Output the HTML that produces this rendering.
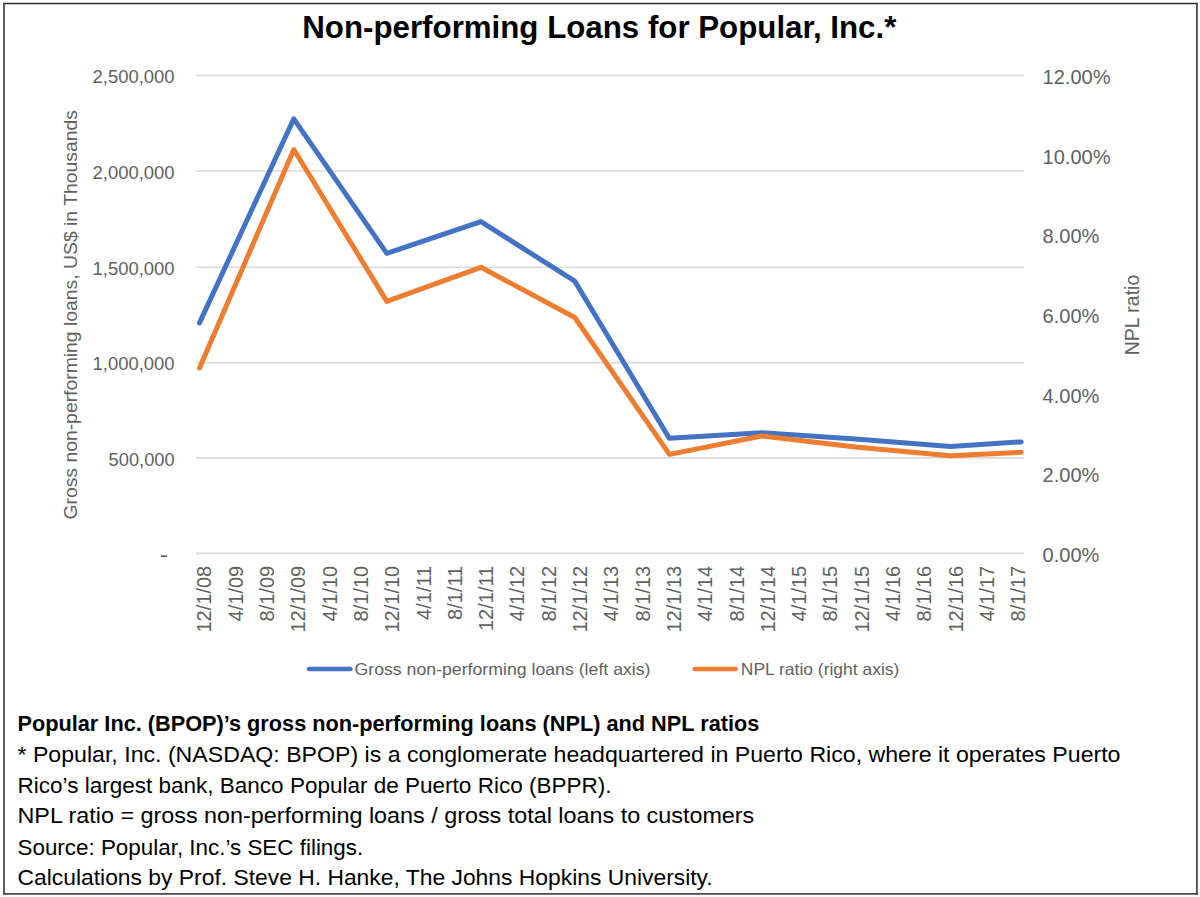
<!DOCTYPE html>
<html><head><meta charset="utf-8"><title>Non-performing Loans for Popular, Inc.</title>
<style>html,body{margin:0;padding:0;background:#fff;}svg{display:block;}text{font-family:"Liberation Sans", sans-serif;}</style>
</head><body>
<svg width="1200" height="897" viewBox="0 0 1200 897" font-family='"Liberation Sans", sans-serif'><rect x="0" y="0" width="1200" height="897" fill="#fff"/>
<line x1="3" y1="3.5" x2="1198" y2="3.5" stroke="#2c2c2c" stroke-width="1.5"/>
<line x1="4" y1="2.8" x2="4" y2="894.7" stroke="#555" stroke-width="1.9"/>
<line x1="1196.9" y1="2.8" x2="1196.9" y2="894.7" stroke="#505050" stroke-width="1.9"/>
<line x1="3" y1="893.8" x2="1198" y2="893.8" stroke="#4a4a4a" stroke-width="1.8"/>
<line x1="196" y1="75.55" x2="1024.2" y2="75.55" stroke="#d9d9d9" stroke-width="1.6"/>
<line x1="196" y1="170.95" x2="1024.2" y2="170.95" stroke="#d9d9d9" stroke-width="1.6"/>
<line x1="196" y1="267.30" x2="1024.2" y2="267.30" stroke="#d9d9d9" stroke-width="1.6"/>
<line x1="196" y1="362.60" x2="1024.2" y2="362.60" stroke="#d9d9d9" stroke-width="1.6"/>
<line x1="196" y1="457.90" x2="1024.2" y2="457.90" stroke="#d9d9d9" stroke-width="1.6"/>
<line x1="196" y1="553.40" x2="1024.2" y2="553.40" stroke="#d9d9d9" stroke-width="1.6"/>
<polyline points="199.50,322.90 293.80,118.80 386.80,253.30 480.90,221.60 574.80,281.20 669.30,438.20 761.80,432.70 855.50,439.00 950.50,446.60 1021.20,441.90" fill="none" stroke="#4472c4" stroke-width="5" stroke-linejoin="round" stroke-linecap="round"/>
<polyline points="199.50,368.00 293.80,149.50 386.80,301.40 480.90,267.30 574.80,317.50 669.50,454.40 761.80,436.00 855.50,446.90 950.50,455.80 1021.20,452.30" fill="none" stroke="#ed7d31" stroke-width="5" stroke-linejoin="round" stroke-linecap="round"/>
<text x="174.6" y="83.40" font-size="17.5" text-anchor="end" textLength="82" lengthAdjust="spacingAndGlyphs" fill="#616161">2,500,000</text>
<text x="174.6" y="178.80" font-size="17.5" text-anchor="end" textLength="82" lengthAdjust="spacingAndGlyphs" fill="#616161">2,000,000</text>
<text x="174.6" y="275.15" font-size="17.5" text-anchor="end" textLength="82" lengthAdjust="spacingAndGlyphs" fill="#616161">1,500,000</text>
<text x="174.6" y="370.45" font-size="17.5" text-anchor="end" textLength="82" lengthAdjust="spacingAndGlyphs" fill="#616161">1,000,000</text>
<text x="174.6" y="465.75" font-size="17.5" text-anchor="end" textLength="66" lengthAdjust="spacingAndGlyphs" fill="#616161">500,000</text>
<rect x="161" y="555.3" width="6.2" height="1.8" fill="#616161"/>
<text x="1042.6" y="84.15" font-size="20" fill="#616161">12.00%</text>
<text x="1042.6" y="163.79" font-size="20" fill="#616161">10.00%</text>
<text x="1042.6" y="243.43" font-size="20" fill="#616161">8.00%</text>
<text x="1042.6" y="323.08" font-size="20" fill="#616161">6.00%</text>
<text x="1042.6" y="402.72" font-size="20" fill="#616161">4.00%</text>
<text x="1042.6" y="482.36" font-size="20" fill="#616161">2.00%</text>
<text x="1042.6" y="562.00" font-size="20" fill="#616161">0.00%</text>
<text transform="translate(211.40,565.8) rotate(-90)" font-size="20" text-anchor="end" fill="#616161">12/1/08</text>
<text transform="translate(242.70,565.8) rotate(-90)" font-size="20" text-anchor="end" fill="#616161">4/1/09</text>
<text transform="translate(274.00,565.8) rotate(-90)" font-size="20" text-anchor="end" fill="#616161">8/1/09</text>
<text transform="translate(305.30,565.8) rotate(-90)" font-size="20" text-anchor="end" fill="#616161">12/1/09</text>
<text transform="translate(336.60,565.8) rotate(-90)" font-size="20" text-anchor="end" fill="#616161">4/1/10</text>
<text transform="translate(367.90,565.8) rotate(-90)" font-size="20" text-anchor="end" fill="#616161">8/1/10</text>
<text transform="translate(399.20,565.8) rotate(-90)" font-size="20" text-anchor="end" fill="#616161">12/1/10</text>
<text transform="translate(430.50,565.8) rotate(-90)" font-size="20" text-anchor="end" fill="#616161">4/1/11</text>
<text transform="translate(461.80,565.8) rotate(-90)" font-size="20" text-anchor="end" fill="#616161">8/1/11</text>
<text transform="translate(493.10,565.8) rotate(-90)" font-size="20" text-anchor="end" fill="#616161">12/1/11</text>
<text transform="translate(524.40,565.8) rotate(-90)" font-size="20" text-anchor="end" fill="#616161">4/1/12</text>
<text transform="translate(555.70,565.8) rotate(-90)" font-size="20" text-anchor="end" fill="#616161">8/1/12</text>
<text transform="translate(587.00,565.8) rotate(-90)" font-size="20" text-anchor="end" fill="#616161">12/1/12</text>
<text transform="translate(618.30,565.8) rotate(-90)" font-size="20" text-anchor="end" fill="#616161">4/1/13</text>
<text transform="translate(649.60,565.8) rotate(-90)" font-size="20" text-anchor="end" fill="#616161">8/1/13</text>
<text transform="translate(680.90,565.8) rotate(-90)" font-size="20" text-anchor="end" fill="#616161">12/1/13</text>
<text transform="translate(712.20,565.8) rotate(-90)" font-size="20" text-anchor="end" fill="#616161">4/1/14</text>
<text transform="translate(743.50,565.8) rotate(-90)" font-size="20" text-anchor="end" fill="#616161">8/1/14</text>
<text transform="translate(774.80,565.8) rotate(-90)" font-size="20" text-anchor="end" fill="#616161">12/1/14</text>
<text transform="translate(806.10,565.8) rotate(-90)" font-size="20" text-anchor="end" fill="#616161">4/1/15</text>
<text transform="translate(837.40,565.8) rotate(-90)" font-size="20" text-anchor="end" fill="#616161">8/1/15</text>
<text transform="translate(868.70,565.8) rotate(-90)" font-size="20" text-anchor="end" fill="#616161">12/1/15</text>
<text transform="translate(900.00,565.8) rotate(-90)" font-size="20" text-anchor="end" fill="#616161">4/1/16</text>
<text transform="translate(931.30,565.8) rotate(-90)" font-size="20" text-anchor="end" fill="#616161">8/1/16</text>
<text transform="translate(962.60,565.8) rotate(-90)" font-size="20" text-anchor="end" fill="#616161">12/1/16</text>
<text transform="translate(993.90,565.8) rotate(-90)" font-size="20" text-anchor="end" fill="#616161">4/1/17</text>
<text transform="translate(1025.20,565.8) rotate(-90)" font-size="20" text-anchor="end" fill="#616161">8/1/17</text>
<text transform="translate(1139.4,315) rotate(-90)" font-size="19.5" text-anchor="middle" fill="#616161">NPL ratio</text>
<text transform="translate(77.1,519.6) rotate(-90)" font-size="18.6" textLength="409.5" lengthAdjust="spacingAndGlyphs" fill="#616161">Gross non-performing loans, US$ in Thousands</text>
<text x="302.3" y="38.2" font-size="31" font-weight="bold" textLength="594" lengthAdjust="spacingAndGlyphs" fill="#000">Non-performing Loans for Popular, Inc.*</text>
<line x1="309" y1="668.9" x2="350.5" y2="668.9" stroke="#4472c4" stroke-width="4.5" stroke-linecap="round"/>
<line x1="694.7" y1="669" x2="735.7" y2="669" stroke="#ed7d31" stroke-width="4.5" stroke-linecap="round"/>
<text x="354.5" y="675.4" font-size="16.5" textLength="296" lengthAdjust="spacingAndGlyphs" fill="#616161">Gross non-performing loans (left axis)</text>
<text x="740.8" y="675.3" font-size="16.5" textLength="158.6" lengthAdjust="spacingAndGlyphs" fill="#616161">NPL ratio (right axis)</text>
<text x="17.5" y="730.5" font-size="22.8" font-weight="bold" textLength="741.8" lengthAdjust="spacingAndGlyphs" fill="#000">Popular Inc. (BPOP)’s gross non-performing loans (NPL) and NPL ratios</text>
<text x="17.5" y="761.5" font-size="22.8" textLength="1103" lengthAdjust="spacingAndGlyphs" fill="#000">* Popular, Inc. (NASDAQ: BPOP) is a conglomerate headquartered in Puerto Rico, where it operates Puerto</text>
<text x="17.5" y="792.5" font-size="22.8" textLength="594" lengthAdjust="spacingAndGlyphs" fill="#000">Rico’s largest bank, Banco Popular de Puerto Rico (BPPR).</text>
<text x="17.5" y="823.4" font-size="22.8" textLength="736.8" lengthAdjust="spacingAndGlyphs" fill="#000">NPL ratio = gross non-performing loans / gross total loans to customers</text>
<text x="17.5" y="854.6" font-size="22.8" textLength="345.7" lengthAdjust="spacingAndGlyphs" fill="#000">Source: Popular, Inc.’s SEC filings.</text>
<text x="17.5" y="885.2" font-size="22.8" textLength="695.2" lengthAdjust="spacingAndGlyphs" fill="#000">Calculations by Prof. Steve H. Hanke, The Johns Hopkins University.</text></svg>
</body></html>
